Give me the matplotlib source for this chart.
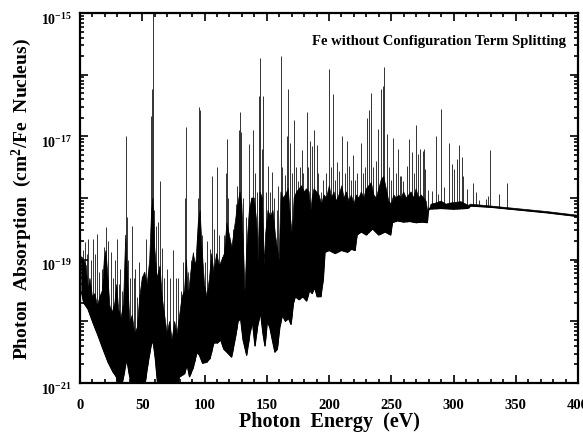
import numpy as np
import matplotlib
matplotlib.use("Agg")
import matplotlib.pyplot as plt
from matplotlib.transforms import ScaledTranslation
from matplotlib.ticker import MultipleLocator, LogLocator, FuncFormatter, NullFormatter

plt.rcParams["font.family"] = "Liberation Serif"
plt.rcParams["font.weight"] = "bold"
plt.rcParams["mathtext.fontset"] = "custom"
plt.rcParams["mathtext.rm"] = "Liberation Serif:bold"
plt.rcParams["mathtext.bf"] = "Liberation Serif:bold"
plt.rcParams["mathtext.default"] = "bf"

# individual absorption lines: energy (eV) and log10 of peak cross section
line_e = [
    2.5, 4.0, 5.5, 6.7, 8.5, 10.7, 12.0, 13.4, 15.5, 17.4, 19.5, 20.9, 22.3, 24.6,
    26.5, 28.0, 29.5, 31.0, 32.1, 34.0, 36.7, 37.5, 38.8, 40.0, 41.5, 43.0, 44.2,
    46.0, 47.4, 49.5, 51.0, 53.0, 54.5, 56.5, 57.0, 57.6, 58.6, 59.5, 61.0, 62.9,
    64.3, 65.6, 67.5, 69.6, 72.3, 74.9, 77.1, 79.0, 81.0, 83.0, 84.0, 85.0, 87.0,
    89.0, 91.0, 92.4, 94.0, 94.8, 95.8, 96.6, 98.0, 100.4, 102.0, 104.4, 105.8,
    108.0, 109.8, 111.5, 113.8, 115.7, 117.2, 118.3, 119.0, 120.5, 123.1, 125.0,
    126.5, 127.4, 128.5, 129.5, 131.0, 133.0, 135.7, 137.0, 139.2, 140.5, 142.0,
    143.5, 144.6, 146.2, 147.3, 149.0, 151.3, 153.0, 154.5, 156.0, 158.0, 159.4,
    161.4, 162.3, 164.7, 166.2, 167.3, 168.5, 170.5, 171.9, 173.5, 174.8, 176.7,
    178.0, 179.5, 182.0, 183.5, 184.7, 186.6, 188.2, 190.0, 191.5, 193.5, 194.9,
    197.6, 198.8, 200.3, 201.5, 203.0, 204.5, 206.2, 208.0, 210.4, 212.5, 214.2,
    216.0, 217.5, 219.0, 221.0, 222.5, 225.7, 227.5, 229.0, 230.3, 232.1, 233.7,
    235.5, 237.5, 239.6, 241.5, 243.1, 244.4, 246.3, 248.0, 249.5, 251.7, 253.5,
    255.2, 257.0, 257.8, 259.7, 262.4, 264.5, 266.4, 268.0, 269.6, 271.2, 273.1,
    275.2, 276.6, 277.3, 279.8, 283.0, 286.0, 287.8, 290.0, 292.6, 296.1, 299.0,
    300.7, 302.5, 304.7, 306.6, 307.9, 311.1, 315.9, 318.0, 320.2, 326.1, 327.5,
    329.3, 336.8, 342.7,
]
line_peak = [
    -18.85, -18.71, -18.90, -18.66, -19.00, -18.66, -18.90, -18.58, -19.20, -19.15,
    -18.80, -18.47, -18.70, -18.88, -19.30, -19.00, -18.66, -19.40, -19.15, -19.50,
    -17.00, -18.30, -19.00, -19.30, -18.45, -19.30, -19.15, -19.60, -19.04, -19.27,
    -19.50, -18.66, -19.20, -18.90, -16.67, -16.24, -14.90, -18.20, -18.45, -18.39,
    -17.73, -18.81, -19.30, -19.15, -19.30, -18.85, -19.30, -19.30, -19.50, -19.04,
    -18.00, -16.85, -19.20, -19.00, -18.88, -19.04, -18.60, -18.00, -16.53, -16.58,
    -18.60, -19.04, -18.70, -18.82, -17.65, -18.50, -17.50, -18.60, -18.96, -18.60,
    -17.60, -17.04, -18.00, -18.88, -18.50, -18.10, -17.80, -16.90, -16.60, -16.93,
    -18.00, -18.30, -17.12, -18.00, -16.89, -17.60, -17.90, -16.35, -15.73, -17.20,
    -16.35, -17.90, -17.48, -17.90, -17.58, -18.00, -18.20, -17.80, -15.69, -17.50,
    -17.63, -17.00, -16.24, -17.10, -17.60, -16.73, -17.50, -17.72, -17.50, -17.22,
    -17.60, -16.60, -17.50, -17.07, -17.15, -16.89, -17.14, -17.60, -17.90, -17.70,
    -17.60, -17.90, -15.90, -17.50, -16.32, -17.70, -17.42, -17.57, -16.99, -17.60,
    -17.08, -17.48, -17.70, -17.31, -17.70, -17.60, -17.11, -17.60, -17.50, -16.70,
    -16.58, -16.30, -17.50, -17.40, -16.88, -16.23, -16.19, -15.88, -16.96, -17.50,
    -17.70, -17.02, -17.60, -17.20, -17.64, -17.64, -17.72, -17.48, -17.04, -17.26,
    -17.60, -16.82, -17.29, -17.20, -17.23, -17.20, -17.53, -17.87, -17.88, -17.00,
    -17.93, -16.55, -17.82, -17.10, -17.45, -17.53, -17.36, -17.14, -17.34, -17.65,
    -17.85, -17.75, -17.91, -18.03, -18.02, -17.96, -17.22, -17.94, -17.76,
]

# lower edge of the dense line forest / continuum (eV, log10)
low_e = [
    1.5, 3.0, 6.4, 10.4, 14.5, 18.5, 22.5, 26.5, 29.2, 31.0, 33.5, 35.5, 37.5, 39.5,
    41.5, 52.0, 54.5, 57.0, 58.6, 60.5, 62.5, 78.0, 80.0, 84.0, 86.0, 88.0, 91.0,
    94.0, 96.0, 98.5, 102.0, 104.5, 107.5, 110.5, 113.0, 115.5, 118.0, 121.8, 124.5,
    127.0, 129.0, 131.0, 133.9, 136.5, 138.5, 140.6, 142.5, 145.0, 147.0, 148.6,
    150.5, 152.5, 154.5, 156.6, 158.5, 160.5, 162.5, 165.0, 167.5, 169.5, 171.5,
    173.0, 176.0, 179.0, 182.0, 184.5, 186.5, 188.5, 190.5, 193.5, 195.5, 196.8,
    200.0, 205.0, 210.0, 215.0, 218.0, 221.0, 222.5, 226.0, 230.0, 235.0, 240.0,
    245.0, 249.5, 251.0, 255.0, 260.0, 265.0, 270.0, 275.0, 279.0, 279.8, 290.0,
    300.0, 310.0, 312.5, 313.5, 330.0, 350.0, 375.0, 400.0,
]
low_v = [
    -19.55, -19.70, -19.80, -20.02, -20.23, -20.45, -20.66, -20.82, -20.90, -21.05,
    -21.05, -20.85, -20.60, -20.85, -21.05, -21.05, -20.70, -20.40, -20.30, -20.60,
    -21.05, -21.05, -20.90, -20.85, -20.70, -20.90, -20.75, -20.50, -20.55, -20.68,
    -20.66, -20.60, -20.35, -20.35, -20.30, -20.45, -20.50, -20.58, -20.30, -20.00,
    -19.95, -20.30, -20.55, -20.20, -20.00, -20.40, -20.10, -19.85, -20.20, -20.40,
    -20.00, -20.10, -20.30, -20.50, -20.45, -20.10, -19.90, -20.00, -19.95, -20.05,
    -19.70, -19.60, -19.65, -19.60, -19.67, -19.50, -19.55, -19.45, -19.60, -19.60,
    -19.30, -18.88, -18.85, -18.90, -18.85, -18.88, -18.83, -18.85, -18.60, -18.55,
    -18.60, -18.50, -18.60, -18.55, -18.60, -18.40, -18.37, -18.39, -18.38, -18.40,
    -18.39, -18.40, -18.18, -18.17, -18.18, -18.17, -18.16, -18.13, -18.15, -18.19,
    -18.24, -18.30,
]

# upper edge of the solid part of the line forest (eV, log10)
high_e = [
    1.2, 3.0, 5.0, 6.5, 8.0, 10.0, 12.0, 14.0, 16.0, 18.0, 19.5, 20.9, 22.5, 24.0,
    26.0, 28.0, 29.5, 31.0, 33.0, 35.0, 36.7, 38.0, 40.0, 42.0, 44.0, 46.0, 48.0,
    50.0, 52.0, 54.0, 56.0, 57.5, 58.6, 60.0, 62.0, 64.3, 66.0, 68.0, 70.0, 72.0,
    74.0, 76.0, 78.0, 80.0, 82.0, 84.0, 85.5, 87.0, 89.0, 91.0, 93.0, 95.0, 96.5,
    98.0, 100.0, 102.0, 104.0, 105.8, 107.5, 109.8, 112.0, 114.0, 116.0, 118.0,
    120.0, 122.0, 124.0, 126.0, 128.5, 130.0, 131.5, 132.5, 134.0, 136.0, 138.0,
    140.0, 142.0, 143.0, 144.6, 146.5, 148.0, 149.0, 151.0, 153.0, 155.0, 157.0,
    160.0, 161.4, 163.0, 165.0, 167.3, 169.0, 170.5, 172.0, 174.0, 176.0, 178.0,
    180.0, 182.0, 184.0, 185.5, 186.5, 188.0, 190.0, 192.0, 194.0, 196.0, 198.0,
    200.3, 202.0, 204.0, 206.0, 208.0, 210.4, 212.0, 214.0, 216.0, 218.0, 220.0,
    222.0, 224.0, 226.0, 228.0, 230.0, 232.0, 234.0, 236.0, 238.0, 240.0, 242.0,
    244.0, 246.0, 248.0, 250.0, 252.0, 254.0, 256.0, 258.0, 260.0, 262.0, 264.0,
    266.0, 268.0, 270.0, 272.0, 274.0, 276.0, 278.0, 279.5, 282.0, 286.0, 290.0,
    294.0, 298.0, 302.0, 306.0, 310.0, 312.5, 313.5, 330.0, 350.0, 375.0, 400.0,
]
high_v = [
    -18.95, -19.00, -19.10, -19.50, -19.30, -19.60, -19.55, -19.75, -19.60, -19.50,
    -19.00, -18.85, -19.30, -19.75, -19.85, -19.70, -19.40, -19.80, -19.95, -19.70,
    -18.60, -19.20, -20.00, -19.90, -20.20, -20.10, -19.60, -19.30, -19.20, -19.40,
    -19.00, -18.20, -18.00, -18.80, -19.30, -19.10, -19.60, -19.90, -20.20, -20.00,
    -20.30, -20.00, -20.20, -19.90, -19.60, -19.50, -19.00, -19.60, -19.20, -18.90,
    -19.10, -18.40, -18.20, -18.80, -19.40, -19.60, -19.30, -18.90, -19.20, -18.90,
    -19.10, -19.00, -18.90, -18.40, -18.60, -18.80, -18.50, -18.20, -17.90, -18.10,
    -18.90, -19.50, -18.80, -18.20, -18.00, -18.00, -18.40, -19.00, -17.90, -18.00,
    -19.10, -18.60, -18.20, -18.30, -18.20, -18.60, -19.00, -17.90, -18.00, -17.95,
    -17.85, -18.30, -18.60, -18.00, -17.90, -17.85, -17.80, -17.90, -17.85, -17.90,
    -18.20, -18.00, -17.85, -17.90, -17.95, -18.10, -17.95, -18.00, -17.80, -18.00,
    -17.90, -18.05, -17.95, -17.80, -18.00, -17.90, -18.05, -17.95, -18.10, -17.95,
    -18.00, -17.90, -18.00, -17.85, -17.80, -17.75, -17.95, -18.00, -17.85, -17.70,
    -17.65, -17.85, -18.05, -18.10, -17.95, -18.00, -17.95, -18.00, -17.90, -18.00,
    -17.95, -17.90, -18.00, -17.85, -18.00, -17.95, -18.00, -18.05, -18.25, -18.10,
    -18.08, -18.05, -18.10, -18.08, -18.07, -18.06, -18.10, -18.12, -18.10, -18.13,
    -18.17, -18.22, -18.28,
]

x_ticks = [0, 50, 100, 150, 200, 250, 300, 350, 400]

fig = plt.figure(figsize=(5.83, 4.39), dpi=100)
ax = fig.add_axes([80 / 583, 55 / 439, 498 / 583, 370 / 439])
ax.set_yscale("log")
ax.set_xlim(0, 400)
ax.set_ylim(1e-21, 1e-15)
ax.set_axisbelow(False)

low = 10.0 ** np.array(low_v)
high = 10.0 ** np.array(high_v)

ax.vlines(line_e, 1e-21, 10.0 ** np.array(line_peak), color="0.2", lw=0.7, zorder=1)
ax.fill_between(low_e, 1e-23, low, color="white", lw=0, zorder=1.2)
ax.fill(np.concatenate([high_e, low_e[::-1]]), np.concatenate([high, low[::-1]]),
        color="black", lw=0.5, zorder=1.4)
ax.plot(low_e, low, color="black", lw=0.9, zorder=1.5)

ax.xaxis.set_minor_locator(MultipleLocator(10))
ax.set_xticks(x_ticks)
ax.set_xticklabels([str(t) for t in x_ticks])
ax.yaxis.set_major_locator(LogLocator(base=10, numticks=20))
ax.yaxis.set_minor_locator(LogLocator(base=10, subs=np.arange(2, 10), numticks=20))
ax.yaxis.set_major_formatter(FuncFormatter(
    lambda v, p: r"$10^{%d}$" % round(np.log10(v)) if round(np.log10(v)) % 2 else ""))
ax.yaxis.set_minor_formatter(NullFormatter())
ax.tick_params(which="both", direction="in", top=True, right=True, width=1.2)
ax.tick_params(which="major", length=6)
ax.tick_params(which="minor", length=3)
ax.tick_params(axis="x", which="major", labelsize=10.5, pad=11)
ax.tick_params(axis="y", which="major", labelsize=10, pad=6)
for s in ax.spines.values():
    s.set_linewidth(1.6)

ax.set_xlabel("Photon  Energy  (eV)", fontsize=14.5, fontweight="bold", labelpad=0)
ax.set_ylabel(r"Photon  Absorption  (cm$^{2}$/Fe  Nucleus)", fontsize=14,
              fontweight="bold", labelpad=5)
ax.text(0.975, 0.925, "Fe without Configuration Term Splitting", transform=ax.transAxes,
        ha="right", va="center", fontsize=10.5, fontweight="bold")

# nudge the decade labels down a little so the top one stays inside the figure
fig.canvas.draw()
shift = ScaledTranslation(0, -3 / 72, fig.dpi_scale_trans)
for lbl in ax.yaxis.get_majorticklabels():
    lbl.set_transform(lbl.get_transform() + shift)

fig.savefig("out.png", dpi=100)
